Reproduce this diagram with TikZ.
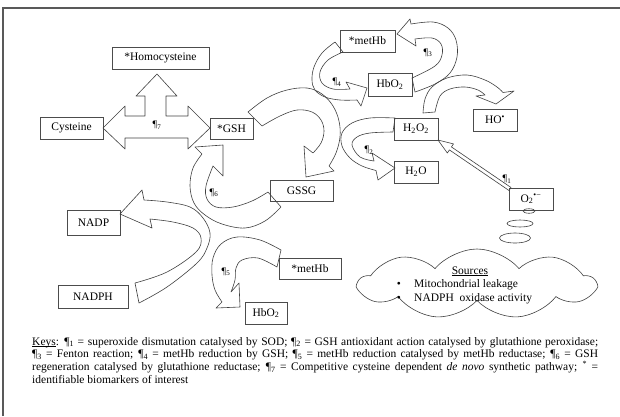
\documentclass[tikz,border=0pt]{standalone}
\usepackage{fontspec}
\setmainfont{Liberation Serif}
\usetikzlibrary{shapes.symbols,shapes.geometric}
\newcommand\myul[1]{\setbox0\hbox{#1}\rlap{\rule[-1.3pt]{\wd0}{0.5pt}}\box0}
\begin{document}
\begin{tikzpicture}[x=1pt,y=-1pt,
  box/.style={draw=black!70, line width=0.8pt, inner sep=0pt, font=\fontsize{11.5}{13}\selectfont, minimum height=22pt},
  band/.style={draw=black!75, line width=0.6pt, line join=round},
  pil/.style={font=\fontsize{10}{10}\selectfont, inner sep=0pt},
  txt/.style={font=\fontsize{11.5}{13}\selectfont, inner sep=0pt},
  bub/.style={draw=black!75, line width=0.6pt, ellipse, inner sep=0pt}]
\useasboundingbox (0,0) rectangle (620,416);
\draw[black!65, line width=1.2pt] (3,416) -- (3,8) -- (620,8);

% boxes
\node[box, minimum width=97pt] (homo) at (160.5,58) {*Homocysteine};
\node[box, minimum width=63pt] (cys) at (71.5,128) {Cysteine};
\node[box, minimum width=43pt, minimum height=21pt] (gsh) at (231.5,128.5) {*GSH};
\node[box, minimum width=55pt] (methb1) at (367.5,41) {*metHb};
\node[box, minimum width=44pt, minimum height=23pt] (hbo1) at (390,84.5) {HbO\textsubscript{2}};
\node[box, minimum width=44pt] (ho) at (495,120) {HO\textsuperscript{•}};
\node[box, minimum width=44pt] (h2o2) at (416,129) {H\textsubscript{2}O\textsubscript{2}};
\node[box, minimum width=44pt] (h2o) at (416,172) {H\textsubscript{2}O};
\node[box, minimum width=63pt, minimum height=21pt] (gssg) at (301.5,190.5) {GSSG};
\node[box, minimum width=44pt] (o2) at (531,199) {O\textsubscript{2}\textsuperscript{•−}};
\node[box, minimum width=53pt, minimum height=25pt] (nadp) at (93.5,222.5) {NADP};
\node[box, minimum width=62pt, minimum height=21pt] (methb2) at (310,268.5) {*metHb};
\node[box, minimum width=70pt, minimum height=23pt] (nadph) at (93,296.5) {NADPH};
\node[box, minimum width=42pt] (hbo2) at (266,313) {HbO\textsubscript{2}};

% cross-shaped arrow (7)
\draw[band] (103,128) -- (125,106) -- (125,116) -- (145,116) -- (145,96) -- (136,96) -- (157,74) -- (177,96) -- (166,96) -- (166,116) -- (188,116) -- (188,106) -- (210,128) -- (188,149) -- (188,138) -- (125,138) -- (125,149) -- cycle;

% GSH -> GSSG
\draw[band] plot[smooth,tension=0.6] coordinates {(262,126) (280,116) (297,110) (312,112) (321,120) (324,131) (321,143) (313,153)} -- (304,146) -- (306,177) -- (334,171) -- plot[smooth,tension=0.6] coordinates {(329,166) (336,153) (340,137) (339,121) (333,106) (322,94) (307,88) (287,90) (267,98) (248,112)} -- cycle;

% GSSG -> GSH (6)
\draw[band] plot[smooth,tension=0.6] coordinates {(268,192) (252,201) (233,207) (216,207) (207,199) (206,186) (213,166)} -- (223,176) -- (223,145) -- (195,147) -- plot[smooth,tension=0.6] coordinates {(202,154) (193,168) (190,186) (194,203) (205,215) (222,224) (245,228) (265,221) (281,207)} -- cycle;

% NADPH -> NADP
\draw[band] plot[smooth,tension=0.6] coordinates {(135,283) (167,272) (196,252) (201,238) (193,228) (173,222) (150,219)} -- (152,228) -- (120,214) -- (142,190) -- plot[smooth,tension=0.6] coordinates {(144,200) (167,202) (190,207) (203,218) (210,233) (207,248) (197,263) (167,287) (139,303)} -- cycle;

% metHb -> HbO2 (5)
\draw[band] plot[smooth,tension=0.6] coordinates {(277,267) (258,258) (242,260) (236,268) (235,280) (231,292)} -- (239,283) -- (240,307) -- (216,308) -- plot[smooth,tension=0.6] coordinates {(222,302) (215,290) (212,275) (213,258) (221,244) (237,237) (260,240) (281,250)} -- cycle;

% metHb -> HbO2 (4)
\draw[band] plot[smooth,tension=0.6] coordinates {(343,52) (328,60) (320,72) (322,83) (333,89) (350,89)} -- (346,82) -- (367,88) -- (361,106) -- plot[smooth,tension=0.6] coordinates {(357,100) (340,100) (325,97) (315,90) (312,80) (314,67) (322,53) (335,42)} -- cycle;

% HbO2 -> metHb (3)
\draw[band] plot[smooth,tension=0.6] coordinates {(412,78) (435,66) (442,55) (441,44) (432,38) (415,39)} -- (416,46) -- (397,34) -- (410,19) -- plot[smooth,tension=0.6] coordinates {(411,24) (433,22) (448,28) (456,40) (457,57) (450,73) (435,84) (415,92)} -- cycle;

% -> HO
\draw[band] plot[smooth,tension=0.6] coordinates {(435,112) (440,96) (450,89) (465,87) (478,90) (485,95)} -- (476,96) -- (496,104) -- (514,91) -- plot[smooth,tension=0.6] coordinates {(503,92.5) (497,87) (485,80) (467,75) (447,78) (432,87) (425,99) (423,113)} -- cycle;

% H2O2 -> H2O (2)
\draw[band] plot[smooth,tension=0.6] coordinates {(393,132) (370,133) (357,137) (352,145) (360,157) (374,161)} -- (372,153) -- (395,168) -- (378,180) -- plot[smooth,tension=0.6] coordinates {(376,170.5) (362,166) (350,158) (342,146) (342,133) (352,123) (370,118) (395,118)} -- cycle;

% O2 -> H2O2 (1)
\draw[band] (511.0,187.5) -- (451.4,146.9) -- (453.5,143.9) -- (438,140) -- (447.3,153.0) -- (449.4,149.9) -- (509.0,190.5) -- cycle;

% labels
\node[pil] (p7) at (157,125) {¶\textsubscript{7}};
\node[pil] (p6) at (214,193) {¶\textsubscript{6}};
\node[pil] (p5) at (226,272) {¶\textsubscript{5}};
\node[pil] (p4) at (337,82) {¶\textsubscript{4}};
\node[pil] (p3) at (428,53) {¶\textsubscript{3}};
\node[pil] (p2) at (369,150) {¶\textsubscript{2}};
\node[pil] (p1) at (507,179) {¶\textsubscript{1}};

% thought bubbles and cloud
\node[bub, minimum width=12pt, minimum height=4.5pt] (b1) at (529,211) {};
\node[bub, minimum width=26pt, minimum height=7pt] (b2) at (520,223.5) {};
\node[bub, minimum width=31pt, minimum height=10pt] (b3) at (515,238) {};
\node[cloud, draw=black!75, line width=0.6pt, cloud puffs=9, cloud puff arc=100, aspect=3.4, minimum width=236pt, minimum height=70pt, inner sep=0pt] (cloud) at (477,284) {};
\node[txt] (src) at (470,271) {\myul{Sources}};
\node[txt] (bu1) at (399,285) {•};
\node[txt, anchor=west] (s1) at (414,285) {Mitochondrial leakage};
\node[txt] (bu2) at (399,299) {•};
\node[txt, anchor=west] (s2) at (414,299) {NADPH\ \ oxidase activity};

% keys
\node[anchor=north west, inner sep=0pt, text width=566pt, align=justify, font=\fontsize{11.5}{12.8}\selectfont] (keys) at (32,337) {\emergencystretch=20pt\myul{Keys}: ¶\textsubscript{1} = superoxide dismutation catalysed by SOD; ¶\textsubscript{2} = GSH antioxidant action catalysed by glutathione peroxidase;\linebreak ¶\textsubscript{3} = Fenton reaction; ¶\textsubscript{4} = metHb reduction by GSH; ¶\textsubscript{5} = metHb reduction catalysed by metHb reductase; ¶\textsubscript{6} = GSH\linebreak regeneration catalysed by glutathione reductase; ¶\textsubscript{7} = Competitive cysteine dependent \textit{de novo} synthetic pathway; \textsuperscript{*} =\linebreak identifiable biomarkers of interest};
\end{tikzpicture}
\end{document}
